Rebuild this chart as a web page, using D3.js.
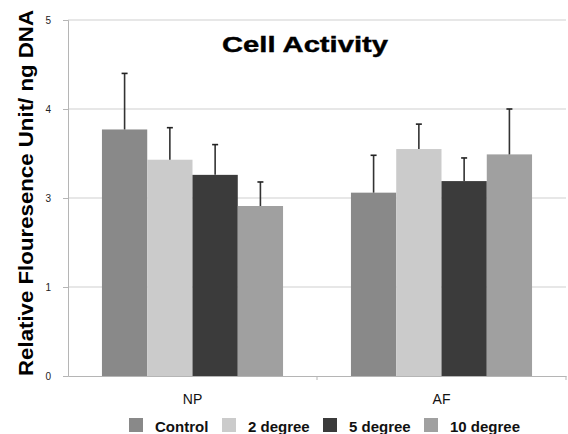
<!DOCTYPE html>
<html>
<head>
<meta charset="utf-8">
<script src="https://cdn.jsdelivr.net/npm/d3@7"></script>
<style>
  html, body { margin: 0; padding: 0; background: #fff; }
  svg { display: block; }
</style>
</head>
<body>
<svg id="chart" width="568" height="434"></svg>
<script>
// ---- data ----
const categories = ["NP", "AF"];
const seriesNames = ["Control", "2 degree", "5 degree", "10 degree"];
const seriesColors = ["#898989", "#cbcbcb", "#3b3b3b", "#a0a0a0"];
const controlValues = [3.77, 3.06];
const deg2Values = [3.43, 3.55];
const deg5Values = [3.26, 3.19];
const deg10Values = [2.82, 3.49];
const controlErr = [0.63, 0.42];
const deg2Err = [0.36, 0.28];
const deg5Err = [0.34, 0.26];
const deg10Err = [0.36, 0.51];
const yTickValues = [0, 1, 3, 4, 5];
const yTickLabels = ["0", "1", "3", "4", "5"];
const titleText = "Cell Activity";
const yAxisTitle = "Relative Flouresence Unit/ ng DNA";

const seriesValues = [controlValues, deg2Values, deg5Values, deg10Values];
const seriesErrs = [controlErr, deg2Err, deg5Err, deg10Err];

const svg = d3.select("#chart");
const plotLeft = 68, plotRight = 566, plotTop = 20, plotBottom = 376;

// the original axis has evenly spaced gridlines labelled 0,1,3,4,5
const y = d3.scaleLinear()
  .domain(yTickValues)
  .range(yTickValues.map((d, i) => plotBottom - i * (plotBottom - plotTop) / (yTickValues.length - 1)));

const x0 = d3.scaleBand().domain(categories).range([plotLeft, plotRight]).padding(0);
const x1 = d3.scaleBand().domain(seriesNames).range([0, x0.bandwidth()])
  .paddingInner(0).paddingOuter(0.75);

// gridlines
svg.append("g").selectAll("line").data(yTickValues.slice(1)).join("line")
  .attr("x1", plotLeft).attr("x2", plotRight)
  .attr("y1", d => y(d)).attr("y2", d => y(d))
  .attr("stroke", "#cfcfcf").attr("stroke-width", 1);

// y axis
const yAxis = d3.axisLeft(y).tickValues(yTickValues)
  .tickFormat((d, i) => yTickLabels[i]).tickSize(5).tickPadding(12);
const gy = svg.append("g").attr("transform", `translate(${plotLeft},0)`).call(yAxis);
gy.select(".domain").attr("stroke", "#b5b5b5");
gy.selectAll(".tick line").attr("stroke", "#b5b5b5");
gy.selectAll(".tick text").attr("font-family", "Liberation Sans, Arial, sans-serif")
  .attr("font-size", 10).attr("fill", "#222");

// bars
categories.forEach((cat, ci) => {
  const g = svg.append("g").attr("transform", `translate(${x0(cat)},0)`);
  seriesNames.forEach((s, si) => {
    const v = seriesValues[si][ci];
    g.append("rect")
      .attr("x", x1(s)).attr("width", x1.bandwidth())
      .attr("y", y(v)).attr("height", y(0) - y(v))
      .attr("fill", seriesColors[si]);
  });
  // error bars
  seriesNames.forEach((s, si) => {
    const v = seriesValues[si][ci], e = seriesErrs[si][ci];
    const cx = x1(s) + x1.bandwidth() / 2;
    g.append("line").attr("x1", cx).attr("x2", cx)
      .attr("y1", y(v)).attr("y2", y(v + e))
      .attr("stroke", "#333").attr("stroke-width", 1.6);
    g.append("line").attr("x1", cx - 3).attr("x2", cx + 3)
      .attr("y1", y(v + e)).attr("y2", y(v + e))
      .attr("stroke", "#222").attr("stroke-width", 1.6);
  });
});

// x axis baseline
const xAxis = d3.axisBottom(x0).tickSize(0).tickPadding(18);
const gx = svg.append("g").attr("transform", `translate(0,${plotBottom})`).call(xAxis);
gx.select(".domain").attr("stroke", "#b5b5b5");
gx.selectAll(".tick text").attr("font-family", "Liberation Sans, Arial, sans-serif")
  .attr("font-size", 14).attr("fill", "#111");
// category separator ticks
svg.append("g").selectAll("line").data(categories).join("line")
  .attr("x1", d => x0(d) + x0.bandwidth()).attr("x2", d => x0(d) + x0.bandwidth())
  .attr("y1", plotBottom).attr("y2", plotBottom + 4)
  .attr("stroke", "#b5b5b5");

// title
svg.append("text").attr("x", 305).attr("y", 52).attr("text-anchor", "middle")
  .attr("font-family", "Liberation Sans, Arial, sans-serif").attr("font-weight", "bold")
  .attr("font-size", 22).attr("textLength", 166).attr("lengthAdjust", "spacingAndGlyphs")
  .attr("fill", "#000").attr("stroke", "#000").attr("stroke-width", 0.4).text(titleText);

// y axis title
svg.append("text")
  .attr("transform", "translate(33,193) rotate(-90)")
  .attr("text-anchor", "middle")
  .attr("font-family", "Liberation Sans, Arial, sans-serif").attr("font-weight", "bold")
  .attr("font-size", 20).attr("textLength", 366).attr("lengthAdjust", "spacingAndGlyphs")
  .attr("fill", "#000").text(yAxisTitle);

// legend
const legendX = [129, 222, 323, 424];
const lg = svg.append("g");
seriesNames.forEach((s, i) => {
  lg.append("rect").attr("x", legendX[i]).attr("y", 418).attr("width", 14).attr("height", 14)
    .attr("fill", seriesColors[i]);
  lg.append("text").attr("x", legendX[i] + 26).attr("y", 431.5)
    .attr("font-family", "Liberation Sans, Arial, sans-serif").attr("font-weight", "bold")
    .attr("font-size", 15).attr("fill", "#111").text(s);
});
</script>
</body>
</html>
